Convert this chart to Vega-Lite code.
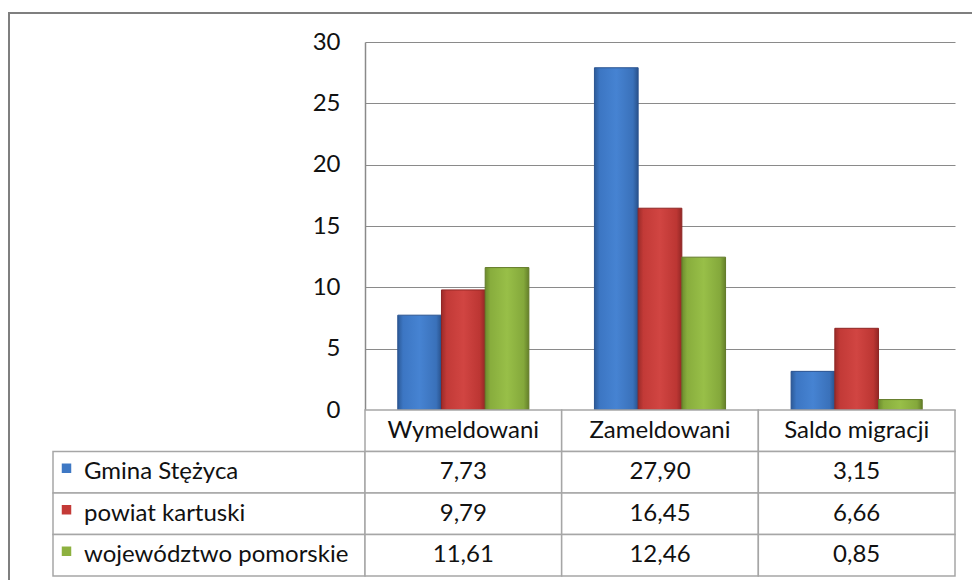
{
  "$schema": "https://vega.github.io/schema/vega-lite/v6.json",
  "padding": {"left": 8, "top": 12, "right": 0, "bottom": 0},
  "background": "white",
  "datasets": {
    "rows": [
      {"category": "Wymeldowani", "series": "Gmina Stężyca", "value": 7.73},
      {"category": "Wymeldowani", "series": "powiat kartuski", "value": 9.79},
      {"category": "Wymeldowani", "series": "województwo pomorskie", "value": 11.61},
      {"category": "Zameldowani", "series": "Gmina Stężyca", "value": 27.90},
      {"category": "Zameldowani", "series": "powiat kartuski", "value": 16.45},
      {"category": "Zameldowani", "series": "województwo pomorskie", "value": 12.46},
      {"category": "Saldo migracji", "series": "Gmina Stężyca", "value": 3.15},
      {"category": "Saldo migracji", "series": "powiat kartuski", "value": 6.66},
      {"category": "Saldo migracji", "series": "województwo pomorskie", "value": 0.85}
    ]
  },
  "columns": 4,
  "spacing": 0,
  "bounds": "flush",
  "concat": [
    {"width": 44, "height": 29, "data": {"values": []}, "mark": "point",
     "view": {"stroke": "#7f7f7f", "strokeWidth": 2, "strokeDash": [44, 73, 29]}},
    {"width": 312, "height": 29, "data": {"values": []}, "mark": "point",
     "view": {"stroke": "#7f7f7f", "strokeWidth": 2, "strokeDash": [312, 1000]}},
    {"width": 590, "height": 29, "data": {"values": []}, "mark": "point",
     "view": {"stroke": "#7f7f7f", "strokeWidth": 2, "strokeDash": [590, 2000]}},
    {"width": 18, "height": 29, "data": {"values": []}, "mark": "point",
     "view": {"stroke": "#7f7f7f", "strokeWidth": 2, "strokeDash": [18, 200]}},

    {"width": 44, "height": 368, "data": {"values": []}, "mark": "point",
     "view": {"stroke": "#7f7f7f", "strokeWidth": 2, "strokeDash": [0, 456, 368]}},
    {"width": 312, "height": 368, "data": {"values": []}, "mark": "point"},
    {
      "width": 590, "height": 368,
      "data": {"name": "rows"},
      "encoding": {
        "x": {"field": "category", "type": "nominal",
              "scale": {"domain": ["Wymeldowani", "Zameldowani", "Saldo migracji"], "paddingInner": 0, "paddingOuter": 0},
              "axis": null},
        "xOffset": {"field": "series", "type": "nominal",
                    "scale": {"domain": ["Gmina Stężyca", "powiat kartuski", "województwo pomorskie"], "paddingInner": 0, "paddingOuter": 0.75}},
        "y": {"field": "value", "type": "quantitative",
              "scale": {"domain": [0, 30], "nice": false},
              "axis": {"values": [0, 5, 10, 15, 20, 25, 30], "title": null, "ticks": false, "labelPadding": 25,
                       "labelFont": "Lato", "labelFontSize": 24, "labelColor": "#111111",
                       "domainColor": "#8a8a8a", "domainWidth": 1.5,
                       "gridColor": "#8a8a8a", "gridWidth": 1.2}}
      },
      "layer": [
        {"transform": [{"filter": "datum.series === 'Gmina Stężyca'"}],
         "mark": {"type": "bar", "stroke": "#2a5390", "strokeWidth": 1,
                  "fill": {"gradient": "linear", "x1": 0, "x2": 1, "y1": 0, "y2": 0,
                           "stops": [{"offset": 0, "color": "#2c5a98"}, {"offset": 0.12, "color": "#3c76c3"},
                                     {"offset": 0.5, "color": "#4683d2"}, {"offset": 0.88, "color": "#3a71ba"},
                                     {"offset": 1, "color": "#29528c"}]}}},
        {"transform": [{"filter": "datum.series === 'powiat kartuski'"}],
         "mark": {"type": "bar", "stroke": "#8e2624", "strokeWidth": 1,
                  "fill": {"gradient": "linear", "x1": 0, "x2": 1, "y1": 0, "y2": 0,
                           "stops": [{"offset": 0, "color": "#9c2b29"}, {"offset": 0.12, "color": "#c23a37"},
                                     {"offset": 0.5, "color": "#d14542"}, {"offset": 0.88, "color": "#bc3633"},
                                     {"offset": 1, "color": "#932725"}]}}},
        {"transform": [{"filter": "datum.series === 'województwo pomorskie'"}],
         "mark": {"type": "bar", "stroke": "#627a28", "strokeWidth": 1,
                  "fill": {"gradient": "linear", "x1": 0, "x2": 1, "y1": 0, "y2": 0,
                           "stops": [{"offset": 0, "color": "#6c8b2d"}, {"offset": 0.12, "color": "#88ad3d"},
                                     {"offset": 0.5, "color": "#98bf48"}, {"offset": 0.88, "color": "#84a83b"},
                                     {"offset": 1, "color": "#65802a"}]}}}
      ]
    },
    {"width": 18, "height": 368, "data": {"values": []}, "mark": "point"},

    {"width": 44, "height": 166, "data": {"values": []}, "mark": "point",
     "view": {"stroke": "#7f7f7f", "strokeWidth": 2, "strokeDash": [0, 254, 166]}},
    {
      "width": 312, "height": 166,
      "data": {"name": "rows"},
      "transform": [{"filter": "datum.category === 'Wymeldowani'"}],
      "encoding": {
        "y": {"field": "series", "type": "nominal",
              "scale": {"domain": ["header", "Gmina Stężyca", "powiat kartuski", "województwo pomorskie"], "paddingInner": 0, "paddingOuter": 0},
              "axis": null}
      },
      "layer": [
        {"mark": {"type": "rect", "fill": "white", "stroke": "#a6a6a6", "strokeWidth": 1.5}},
        {"mark": {"type": "point", "shape": "square", "filled": true, "size": 90, "opacity": 1, "xOffset": 13.5, "yOffset": -4, "strokeWidth": 1},
         "encoding": {
           "x": {"datum": 0, "type": "quantitative", "scale": {"domain": [0, 1]}, "axis": null},
           "color": {"field": "series", "type": "nominal",
                     "scale": {"domain": ["Gmina Stężyca", "powiat kartuski", "województwo pomorskie"], "range": ["#3e78c4", "#c43a37", "#8db13f"]},
                     "legend": null}
         }},
        {"mark": {"type": "text", "align": "left", "baseline": "middle", "dx": 31, "font": "Lato", "fontSize": 24, "color": "#111111"},
         "encoding": {
           "x": {"datum": 0, "type": "quantitative", "scale": {"domain": [0, 1]}, "axis": null},
           "text": {"field": "series"}
         }}
      ]
    },
    {
      "width": 590, "height": 166,
      "data": {"name": "rows"},
      "encoding": {
        "x": {"field": "category", "type": "nominal",
              "scale": {"domain": ["Wymeldowani", "Zameldowani", "Saldo migracji"], "paddingInner": 0, "paddingOuter": 0},
              "axis": null}
      },
      "layer": [
        {"transform": [{"filter": "datum.series === 'Gmina Stężyca'"}],
         "mark": {"type": "rect", "fill": "white", "stroke": "#a6a6a6", "strokeWidth": 1.5},
         "encoding": {"y": {"datum": "header", "type": "nominal",
                            "scale": {"domain": ["header", "Gmina Stężyca", "powiat kartuski", "województwo pomorskie"], "paddingInner": 0, "paddingOuter": 0},
                            "axis": null}}},
        {"mark": {"type": "rect", "fill": "white", "stroke": "#a6a6a6", "strokeWidth": 1.5},
         "encoding": {"y": {"field": "series", "type": "nominal", "axis": null}}},
        {"transform": [{"filter": "datum.series === 'Gmina Stężyca'"}],
         "mark": {"type": "text", "baseline": "middle", "font": "Lato", "fontSize": 24, "color": "#111111"},
         "encoding": {"y": {"datum": "header", "type": "nominal", "axis": null}, "text": {"field": "category"}}},
        {"mark": {"type": "text", "baseline": "middle", "font": "Lato", "fontSize": 24, "color": "#111111"},
         "encoding": {"y": {"field": "series", "type": "nominal", "axis": null},
                      "text": {"field": "value", "type": "quantitative", "format": ".2f"}}}
      ]
    },
    {"width": 18, "height": 166, "data": {"values": []}, "mark": "point"},

    {"width": 44, "height": 5, "data": {"values": []}, "mark": "point",
     "view": {"stroke": "#7f7f7f", "strokeWidth": 2, "strokeDash": [0, 49, 5]}},
    {"width": 312, "height": 5, "data": {"values": []}, "mark": "point"},
    {"width": 590, "height": 5, "data": {"values": []}, "mark": "point"},
    {"width": 18, "height": 5, "data": {"values": []}, "mark": "point"}
  ],
  "config": {
    "view": {"stroke": null},
    "locale": {"number": {"decimal": ",", "thousands": " ", "grouping": [3], "currency": ["", " zł"]}}
  }
}
